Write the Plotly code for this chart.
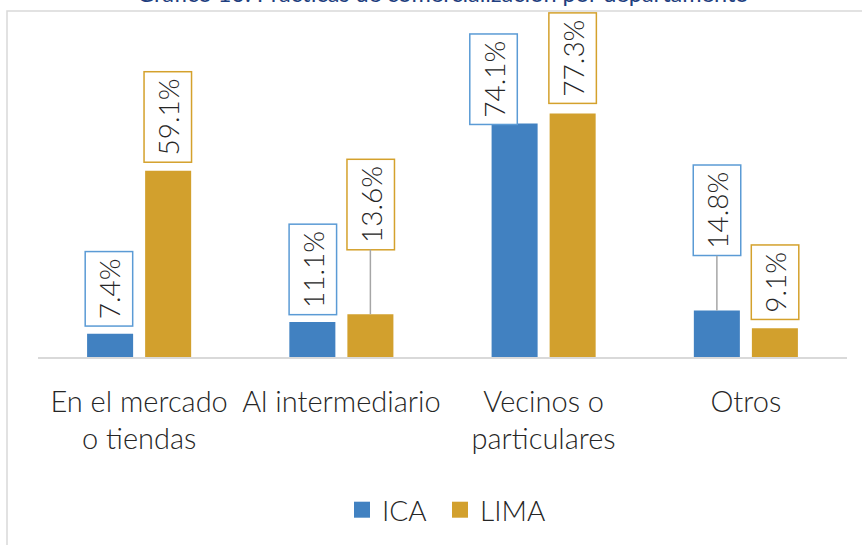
import plotly.graph_objects as go

categories = ["En el mercado<br>o tiendas", "Al intermediario", "Vecinos o<br>particulares", "Otros"]
series_names = ["ICA", "LIMA"]
ica_values = [7.4, 11.1, 74.1, 14.8]
lima_values = [59.1, 13.6, 77.3, 9.1]
title_text = "Gráfico 10: Prácticas de comercialización por departamento"

# label box offsets (pixels) relative to bar tops; whether a leader line is shown
ica_label_offsets = [(-1, -45, False), (0, -53, False), (-21, -44, False), (0, -100, True)]
lima_label_offsets = [(0, -54, False), (0, -110, True), (0, -55, False), (0, -46, False)]

BLUE = "#4181C1"
GOLD = "#D2A02D"
BLUE_BORDER = "#5B9BD5"
GOLD_BORDER = "#D4A12C"
TEXT = "#262626"
FONT = "Lato"

fig = go.Figure()
fig.add_trace(go.Bar(x=categories, y=ica_values, name=series_names[0],
                     marker=dict(color=BLUE, line=dict(width=0)), showlegend=False))
fig.add_trace(go.Bar(x=categories, y=lima_values, name=series_names[1],
                     marker=dict(color=GOLD, line=dict(width=0)), showlegend=False))

# legend proxies with larger squares, one legend box each
for nm, col, lg in zip(series_names, [BLUE, GOLD], ["legend", "legend2"]):
    fig.add_trace(go.Scatter(x=[categories[0]], y=[None], mode="markers", name=nm,
                             legend=lg,
                             marker=dict(symbol="square", size=19, color=col)))

annotations = []
for vals, offs, shift, border in [(ica_values, ica_label_offsets, -29, BLUE_BORDER),
                                  (lima_values, lima_label_offsets, 29, GOLD_BORDER)]:
    for cat, v, (dx, dy, line) in zip(categories, vals, offs):
        annotations.append(dict(
            x=cat, y=v, xref="x", yref="y", xshift=shift,
            text=f"{v:.1f}%", textangle=-90,
            font=dict(family=FONT, size=28, color=TEXT, weight=300),
            showarrow=True, arrowhead=0, ax=dx, ay=dy, standoff=0,
            arrowcolor="#A6A6A6" if line else "rgba(0,0,0,0)", arrowwidth=1.5,
            bgcolor="white", bordercolor=border, borderwidth=1.5, borderpad=6,
        ))

annotations.append(dict(
    text=title_text, x=(135 - 38) / 809, xref="paper", y=(357 - 9) / 315, yref="paper",
    xanchor="left", yanchor="bottom", showarrow=False,
    font=dict(family=FONT, size=23.5, color="#1F3F7F"),
))

legend_style = dict(orientation="h", xanchor="left", xref="container",
                    y=1 - 485 / 545, yanchor="top", yref="container",
                    font=dict(family=FONT, size=28, color=TEXT, weight=300),
                    itemsizing="trace")

fig.update_layout(
    width=862, height=545,
    margin=dict(l=38, r=15, t=42, b=188, autoexpand=False),
    paper_bgcolor="white", plot_bgcolor="white",
    barmode="group", bargap=0.426, bargroupgap=0.207,
    font=dict(family=FONT, color=TEXT),
    xaxis=dict(showline=True, linecolor="#D9D9D9", linewidth=1.5, ticks="",
               tickfont=dict(family=FONT, size=29, color=TEXT, weight=300),
               ticklabelstandoff=18, showgrid=False, fixedrange=True, automargin=False),
    yaxis=dict(range=[0, 100], visible=False, showgrid=False, fixedrange=True, automargin=False),
    legend=dict(x=342 / 862, **legend_style),
    legend2=dict(x=440 / 862, **legend_style),
    annotations=annotations,
    shapes=[dict(type="rect", xref="paper", yref="paper",
                 x0=(7 - 38) / 809, x1=1.2, y0=-1.0, y1=(357 - 11) / 315,
                 line=dict(color="#D9D9D9", width=1.5), fillcolor="rgba(0,0,0,0)",
                 layer="below")],
    showlegend=True,
)

fig.write_html("out.html", config={"displayModeBar": False},
               post_script="document.body.style.margin='0';")
